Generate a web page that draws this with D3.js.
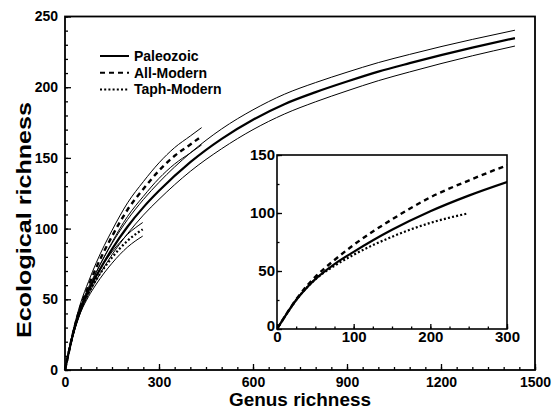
<!DOCTYPE html>
<html>
<head>
<meta charset="utf-8">
<script src="https://cdn.jsdelivr.net/npm/d3@7"></script>
<style>
  body { margin: 0; background: white; }
  text { font-family: "Liberation Sans", Arial, sans-serif; font-weight: bold; }
</style>
</head>
<body>
<div id="chart"></div>
<script>
// data
const paleoX     = [0, 10, 25, 40, 50, 75, 100, 150, 200, 250, 300, 400, 500, 600, 700, 800, 900, 1000, 1100, 1200, 1300, 1436];
const paleoMean  = [0, 10.5, 25, 36.5, 43, 56, 66.5, 85.5, 101.5, 115, 126.7, 147, 163.5, 177, 188, 196.5, 204, 211, 217, 222.7, 228, 234.7];
const paleoUpper = [0, 11, 26, 38.2, 45, 58.5, 69.5, 89.5, 106.5, 120.5, 132.7, 153.5, 170.5, 184, 195, 203.3, 210.6, 217.4, 223.2, 228.7, 233.8, 240.3];
const paleoLower = [0, 10, 24, 34.8, 41, 53.5, 63.5, 81.5, 96.5, 109.5, 120.7, 140.5, 156.5, 170, 181, 189.7, 197.4, 204.6, 210.8, 216.7, 222.2, 229.1];

const allModX     = [0, 10, 25, 40, 50, 75, 100, 150, 200, 250, 300, 350, 400, 436];
const allModMean  = [0, 10.5, 25.5, 38, 45, 59.5, 72.5, 94.5, 113.5, 128, 141, 151.5, 159.5, 165.3];
const allModUpper = [0, 11.2, 27, 40, 47.5, 62.5, 76, 98.7, 118.3, 133.2, 146.5, 157.3, 165.5, 171.4];
const allModLower = [0, 9.8, 24, 36, 42.5, 56.5, 69, 90.3, 108.7, 122.8, 135.5, 145.7, 153.5, 159.2];

const taphX     = [0, 10, 25, 40, 50, 75, 100, 150, 200, 248];
const taphMean  = [0, 10.5, 25, 36.5, 42.8, 54.5, 64, 79.5, 91.5, 99.5];
const taphUpper = [0, 11.1, 26.2, 38.1, 44.8, 57.1, 67.2, 83.5, 96, 104.3];
const taphLower = [0, 9.9, 23.8, 34.9, 40.8, 51.9, 60.8, 75.5, 87, 94.7];

const mainXTicks = [0, 300, 600, 900, 1200, 1500];
const mainYTicks = [0, 50, 100, 150, 200, 250];
const insetXTicks = [0, 100, 200, 300];
const insetYTicks = [0, 50, 100, 150];
const legendNames = ["Paleozoic", "All-Modern", "Taph-Modern"];

const width = 552;
const height = 410;
const dashFor = {"Paleozoic": null, "All-Modern": "5,4", "Taph-Modern": "2,2.2"};

const svg = d3.select("#chart")
    .append("svg")
    .attr("width", width)
    .attr("height", height)
    .style("background-color", "white");

// main panel
const x = d3.scaleLinear().domain([0, 1500]).range([65, 535]);
const y = d3.scaleLinear().domain([0, 250]).range([370, 16.5]);

// inset panel
const xi = d3.scaleLinear().domain([0, 300]).range([277, 507]);
const yi = d3.scaleLinear().domain([0, 150]).range([329, 155]);

function styleAxis(g, size) {
    g.select(".domain").remove();
    g.selectAll("line").attr("stroke", "#000").attr("stroke-width", 1.3);
    g.selectAll("text").attr("font-size", size).attr("fill", "#000")
        .attr("font-family", "'Liberation Sans', Arial, sans-serif").attr("font-weight", "bold");
}

// main axes: major + minor ticks, pointing in
svg.append("g").attr("transform", "translate(0,370)")
    .call(d3.axisBottom(x).tickValues(d3.range(0, 1501, 50)).tickSize(-3).tickFormat(""))
    .call(g => styleAxis(g, 14));
svg.append("g").attr("transform", "translate(0,370)")
    .call(d3.axisBottom(x).tickValues(mainXTicks).tickSize(-6).tickPadding(7).tickFormat(d3.format("d")))
    .call(g => styleAxis(g, 14));
svg.append("g").attr("transform", "translate(65,0)")
    .call(d3.axisLeft(y).tickValues(d3.range(0, 251, 10)).tickSize(-3).tickFormat(""))
    .call(g => styleAxis(g, 14));
svg.append("g").attr("transform", "translate(65,0)")
    .call(d3.axisLeft(y).tickValues(mainYTicks).tickSize(-6).tickPadding(7).tickFormat(d3.format("d")))
    .call(g => styleAxis(g, 14));

svg.append("rect")
    .attr("x", x(0)).attr("y", y(250))
    .attr("width", x(1500) - x(0)).attr("height", y(0) - y(250))
    .attr("fill", "none").attr("stroke", "#000").attr("stroke-width", 1.8);

function drawSeries(target, xs, ys, sx, sy, w, dash) {
    const line = d3.line()
        .x((d, i) => sx(xs[i]))
        .y(d => sy(d))
        .curve(d3.curveMonotoneX);
    target.append("path")
        .attr("d", line(ys))
        .attr("fill", "none")
        .attr("stroke", "#000")
        .attr("stroke-width", w)
        .attr("stroke-dasharray", dash);
}

// confidence bands (thin) and means
const mainG = svg.append("g");
drawSeries(mainG, paleoX, paleoUpper, x, y, 1, null);
drawSeries(mainG, paleoX, paleoLower, x, y, 1, null);
drawSeries(mainG, allModX, allModUpper, x, y, 1, null);
drawSeries(mainG, allModX, allModLower, x, y, 1, null);
drawSeries(mainG, taphX, taphUpper, x, y, 1, null);
drawSeries(mainG, taphX, taphLower, x, y, 1, null);
drawSeries(mainG, paleoX, paleoMean, x, y, 2.2, dashFor["Paleozoic"]);
drawSeries(mainG, allModX, allModMean, x, y, 2.4, dashFor["All-Modern"]);
drawSeries(mainG, taphX, taphMean, x, y, 2.2, dashFor["Taph-Modern"]);

// inset
svg.append("rect")
    .attr("x", xi(0)).attr("y", yi(150))
    .attr("width", xi(300) - xi(0)).attr("height", yi(0) - yi(150))
    .attr("fill", "white");

svg.append("clipPath").attr("id", "insetClip")
    .append("rect")
    .attr("x", xi(0)).attr("y", yi(150))
    .attr("width", xi(300) - xi(0)).attr("height", yi(0) - yi(150));

const insetG = svg.append("g").attr("clip-path", "url(#insetClip)");
drawSeries(insetG, paleoX, paleoMean, xi, yi, 2.2, dashFor["Paleozoic"]);
drawSeries(insetG, allModX, allModMean, xi, yi, 2.4, dashFor["All-Modern"]);
drawSeries(insetG, taphX, taphMean, xi, yi, 2.2, dashFor["Taph-Modern"]);

svg.append("g").attr("transform", "translate(0,329)")
    .call(d3.axisBottom(xi).tickValues(d3.range(0, 301, 25)).tickSize(-2.5).tickFormat(""))
    .call(g => styleAxis(g, 15));
svg.append("g").attr("transform", "translate(0,329)")
    .call(d3.axisBottom(xi).tickValues(insetXTicks).tickSize(-5).tickPadding(2.5).tickFormat(d3.format("d")))
    .call(g => styleAxis(g, 15));
svg.append("g").attr("transform", "translate(277,0)")
    .call(d3.axisLeft(yi).tickValues(d3.range(0, 151, 25)).tickSize(-2.5).tickFormat(""))
    .call(g => styleAxis(g, 15));
svg.append("g").attr("transform", "translate(277,0)")
    .call(d3.axisLeft(yi).tickValues(insetYTicks).tickSize(-5).tickPadding(2).tickFormat(d3.format("d")))
    .call(g => styleAxis(g, 15))
    .call(g => g.selectAll(".tick").filter(d => d === 0).select("text").attr("dy", "0.1em"));

svg.append("rect")
    .attr("x", xi(0)).attr("y", yi(150))
    .attr("width", xi(300) - xi(0)).attr("height", yi(0) - yi(150))
    .attr("fill", "none").attr("stroke", "#000").attr("stroke-width", 1.6);

// legend
const legend = svg.append("g").attr("transform", "translate(100,56)");
legendNames.forEach((name, i) => {
    const row = legend.append("g").attr("transform", `translate(0, ${i * 16.7})`);
    row.append("line")
        .attr("x1", 0).attr("x2", 29)
        .attr("stroke", "#000").attr("stroke-width", 2)
        .attr("stroke-dasharray", dashFor[name]);
    row.append("text")
        .attr("x", 34).attr("y", 5)
        .attr("font-size", "14px")
        .text(name);
});

// axis titles
svg.append("text")
    .attr("x", 300)
    .attr("y", 406)
    .attr("text-anchor", "middle")
    .attr("font-size", "17.5px")
    .attr("textLength", 142)
    .attr("lengthAdjust", "spacingAndGlyphs")
    .text("Genus richness");

svg.append("text")
    .attr("transform", "translate(31,220) rotate(-90)")
    .attr("text-anchor", "middle")
    .attr("font-size", "21px")
    .attr("textLength", 236)
    .attr("lengthAdjust", "spacingAndGlyphs")
    .text("Ecological richness");
</script>
</body>
</html>
